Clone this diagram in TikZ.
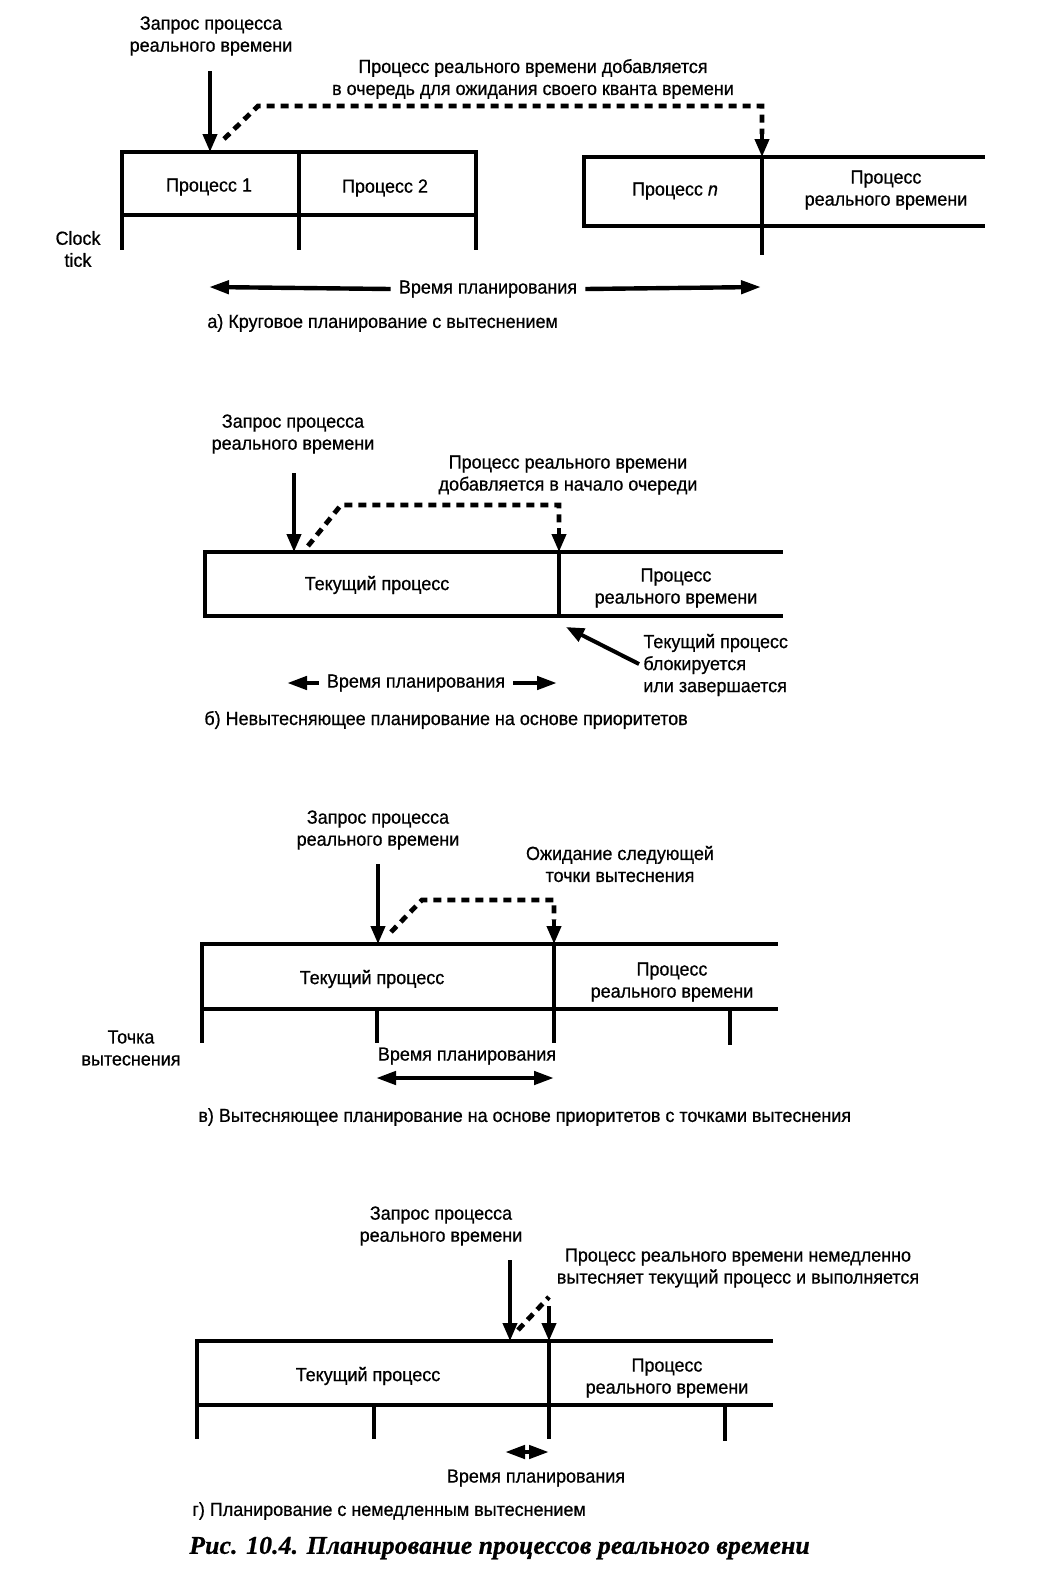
\documentclass[tikz,border=0pt]{standalone}
\usepackage{fontspec}
\setmainfont{Liberation Sans}[FakeStretch=0.945,FakeBold=0.6]
\newfontfamily\capfont{Liberation Serif}[LetterSpace=0.6,FakeBold=0.8]
\usetikzlibrary{arrows.meta}
\tikzset{
  lbl/.style={font=\fontsize{9.5}{11}\selectfont, align=center, inner sep=1pt},
  bar/.style={line width=2pt, line cap=rect},
  arr/.style={line width=2pt, -{Triangle[length=9pt,width=7pt]}},
  tarr/.style={line width=2.2pt, -{Triangle[length=10pt,width=6.5pt]}},
  darr/.style={line width=2.2pt, {Triangle[length=10pt,width=6.5pt]}-{Triangle[length=10pt,width=6.5pt]}},
  dsh/.style={line width=2.4pt, dash pattern=on 4pt off 3pt},
}
\begin{document}
\begin{tikzpicture}[x=0.5pt,y=-0.5pt]
\useasboundingbox[fill=white] (0,0) rectangle (1038,1585);

% ---------------- panel a ----------------
\node[lbl] (qa) at (211,36) {Запрос процесса\\реального времени};
\node[lbl] (ta) at (533,79) {Процесс реального времени добавляется\\в очередь для ожидания своего кванта времени};
\coordinate (a1s) at (210,71);
\coordinate (a1t) at (210,152);
\draw[arr] (a1s) -- (a1t);
\draw[bar] (122,152) rectangle (476,215);
\draw[bar] (122,215) -- (122,248);
\draw[bar] (476,215) -- (476,248);
\draw[bar] (299,152) -- (299,248);
\node[lbl] (p1) at (209,187) {Процесс 1};
\node[lbl] (p2) at (385,188) {Процесс 2};
\draw[bar] (983,157) -- (584,157) -- (584,226) -- (983,226);
\draw[bar] (762,157) -- (762,253);
\node[lbl] (pn) at (675,191) {Процесс \textit{n}};
\node[lbl] (rta) at (886,190) {Процесс\\реального времени};
\node[lbl] (clk) at (78,249) {Clock\\tick};
\coordinate (da0) at (224,139);
\coordinate (da1) at (258,106);
\coordinate (da2) at (762,106);
\coordinate (da3) at (762,134);
\coordinate (da4) at (762,157);
\draw[dsh] (da0) -- (da1) -- (da2) -- (da3);
\draw[arr] (da3) -- (da4);
\node[lbl, inner sep=4pt] (tma) at (488,289) {Время планирования};
\coordinate (tmal) at (209,287);
\coordinate (tmar) at (761,287);
\draw[tarr] (tma.west) -- (tmal);
\draw[tarr] (tma.east) -- (tmar);
\node[lbl, anchor=west] (capa) at (205,323) {а) Круговое планирование с вытеснением};

% ---------------- panel b ----------------
\node[lbl] (qb) at (293,434) {Запрос процесса\\реального времени};
\node[lbl] (tb) at (568,475) {Процесс реального времени\\добавляется в начало очереди};
\coordinate (b1s) at (294,473);
\coordinate (b1t) at (294,552);
\draw[arr] (b1s) -- (b1t);
\draw[bar] (781,552) -- (205,552) -- (205,616) -- (781,616);
\draw[bar] (559,552) -- (559,616);
\node[lbl] (cb) at (377,585) {Текущий процесс};
\node[lbl] (rtb) at (676,588) {Процесс\\реального времени};
\coordinate (db0) at (308,546);
\coordinate (db1) at (341,505);
\coordinate (db2) at (559,505);
\coordinate (db3) at (559,528);
\coordinate (db4) at (559,552);
\draw[dsh] (db0) -- (db1) -- (db2) -- (db3);
\draw[arr] (db3) -- (db4);
\node[lbl, anchor=west, align=left] (blk) at (641,665) {Текущий процесс\\блокируется\\или завершается};
\coordinate (blks) at (639,664);
\coordinate (blkt) at (566,627);
\draw[arr] (blks) -- (blkt);
\node[lbl, inner sep=4pt] (tmb) at (416,683) {Время планирования};
\coordinate (tmbl) at (287,683);
\coordinate (tmbr) at (557,683);
\draw[tarr] (tmb.west) -- (tmbl);
\draw[tarr] (tmb.east) -- (tmbr);
\node[lbl, anchor=west] (capb) at (202,720) {б) Невытесняющее планирование на основе приоритетов};

% ---------------- panel c ----------------
\node[lbl] (qc) at (378,830) {Запрос процесса\\реального времени};
\node[lbl] (tc) at (620,864) {Ожидание следующей\\точки вытеснения};
\coordinate (c1s) at (378,864);
\coordinate (c1t) at (378,944);
\draw[arr] (c1s) -- (c1t);
\draw[bar] (776,944) -- (202,944) -- (202,1041);
\draw[bar] (202,1009) -- (776,1009);
\draw[bar] (554,944) -- (554,1041);
\draw[bar] (377,1009) -- (377,1041);
\draw[bar] (730,1009) -- (730,1043);
\node[lbl] (cc) at (372,979) {Текущий процесс};
\node[lbl] (rtc) at (672,982) {Процесс\\реального времени};
\node[lbl] (pt) at (131,1048) {Точка\\вытеснения};
\coordinate (dc0) at (391,932);
\coordinate (dc1) at (422,900);
\coordinate (dc2) at (554,900);
\coordinate (dc3) at (554,920);
\coordinate (dc4) at (554,944);
\draw[dsh] (dc0) -- (dc1) -- (dc2) -- (dc3);
\draw[arr] (dc3) -- (dc4);
\node[lbl] (tmc) at (467,1056) {Время планирования};
\coordinate (tmcl) at (376,1078);
\coordinate (tmcr) at (554,1078);
\draw[darr] (tmcl) -- (tmcr);
\node[lbl, anchor=west] (capc) at (196,1117) {в) Вытесняющее планирование на основе приоритетов с точками вытеснения};

% ---------------- panel d ----------------
\node[lbl] (qd) at (441,1226) {Запрос процесса\\реального времени};
\node[lbl] (td) at (738,1268) {Процесс реального времени немедленно\\вытесняет текущий процесс и выполняется};
\coordinate (d1s) at (510,1260);
\coordinate (d1t) at (510,1341);
\draw[arr] (d1s) -- (d1t);
\draw[bar] (771,1341) -- (197,1341) -- (197,1437);
\draw[bar] (197,1405) -- (771,1405);
\draw[bar] (549,1341) -- (549,1437);
\draw[bar] (374,1405) -- (374,1437);
\draw[bar] (725,1405) -- (725,1439);
\node[lbl] (cd) at (368,1376) {Текущий процесс};
\node[lbl] (rtd) at (667,1378) {Процесс\\реального времени};
\coordinate (dd0) at (518,1330);
\coordinate (dd1) at (549,1297);
\coordinate (dd2) at (549,1306);
\coordinate (dd3) at (549,1341);
\draw[dsh] (dd0) -- (dd1);
\draw[arr] (dd2) -- (dd3);
\coordinate (tmdl) at (505,1452);
\coordinate (tmdr) at (549,1452);
\draw[darr] (tmdl) -- (tmdr);
\node[lbl] (tmd) at (536,1478) {Время планирования};
\node[lbl, anchor=west] (capd) at (190,1511) {г) Планирование с немедленным вытеснением};

\node[anchor=west, inner sep=0pt, font=\capfont\bfseries\itshape\fontsize{12.8}{15}\selectfont] (fig) at (189,1548) {Рис. 10.4. Планирование процессов реального времени};
\end{tikzpicture}
\end{document}
